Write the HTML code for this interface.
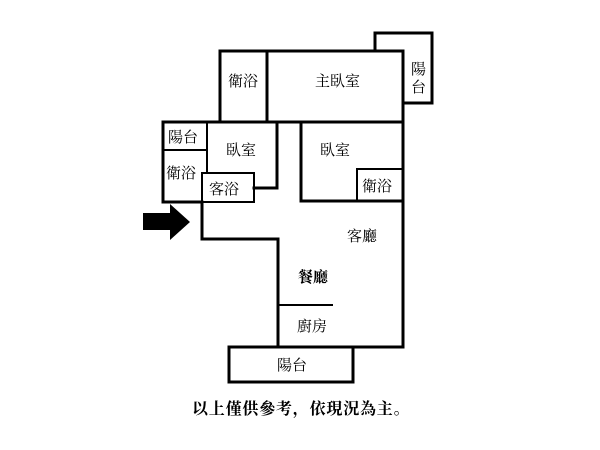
<!DOCTYPE html>
<html><head><meta charset="utf-8"><style>
html,body{margin:0;padding:0;background:#fff;width:600px;height:450px;overflow:hidden}
text{font-family:"Liberation Serif","Noto Serif CJK SC",serif;font-size:15px;fill:#000}
</style></head><body>
<svg width="600" height="450" xmlns="http://www.w3.org/2000/svg">
<g fill="none" stroke="#000" stroke-width="3" stroke-linecap="square">
<polyline points="375,51 375,33 432,33 432,103 403,103"/>
<polyline points="220,122 220,51 403,51 403,347 278,347 278,239 202,239 202,202 163,202 163,122 403,122"/>
<line x1="267" y1="51" x2="267" y2="122"/>
<polyline points="277,122 277,188 254,188"/>
<polyline points="301,122 301,201 403,201"/>
<rect x="229" y="347" width="124" height="35"/>
</g>
<g fill="none" stroke="#000" stroke-width="2">
<line x1="163" y1="150" x2="207" y2="150"/>
<line x1="207" y1="122" x2="207" y2="173"/>
<rect x="202" y="173" width="52" height="29"/>
<rect x="357" y="169" width="46" height="32"/>
<line x1="278" y1="305" x2="333" y2="305"/>
</g>
<polygon points="143,213 170,213 170,204 190,222 170,240 170,230 143,230" fill="#000"/>
<text x="228" y="86">衛浴</text>
<text x="315" y="86">主臥室</text>
<text x="411" y="74">陽</text>
<text x="411" y="92">台</text>
<text x="168" y="142">陽台</text>
<text x="166" y="178">衛浴</text>
<text x="226" y="155">臥室</text>
<text x="320" y="155">臥室</text>
<text x="209" y="194">客浴</text>
<text x="362" y="191">衛浴</text>
<text x="347" y="241">客廳</text>
<text x="298" y="282" style="font-weight:bold">餐廳</text>
<text x="297" y="331">廚房</text>
<text x="277" y="370">陽台</text>
<text x="192" y="414" style="font-size:16px;font-weight:bold;letter-spacing:0.8px">以上僅供參考，依現況為主。</text>
</svg>
</body></html>
